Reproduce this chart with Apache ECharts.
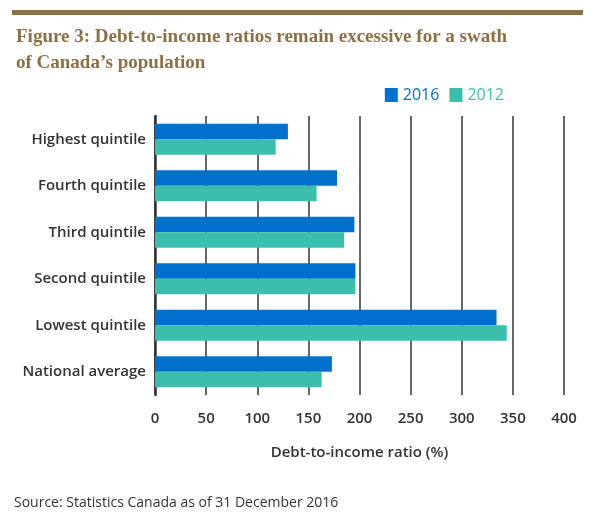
<!DOCTYPE html>
<html>
<head>
<meta charset="utf-8">
<script src="https://cdn.jsdelivr.net/npm/echarts@6/dist/echarts.min.js"></script>
<style>
  html, body { margin: 0; padding: 0; background: #fff; }
  #chart { width: 595px; height: 518px; }
</style>
</head>
<body>
<div id="chart"></div>
<script>
var categories = ['Highest quintile', 'Fourth quintile', 'Third quintile', 'Second quintile', 'Lowest quintile', 'National average'];
var values2016 = [130, 178, 195, 196, 334, 173];
var values2012 = [118, 158, 185, 196, 344, 163];
var seriesNames = ['2016', '2012'];

var colors = {
  blue: '#0070cd',
  teal: '#3bbfac',
  gold: '#8b7046',
  ink: '#333333'
};
var labelFont = '"Open Sans", sans-serif';

var chart = echarts.init(document.getElementById('chart'));

chart.setOption({
  animation: false,
  title: {
    text: 'Figure 3: Debt-to-income ratios remain excessive for a swath\nof Canada\u2019s population',
    left: 11,
    top: 19,
    textStyle: {
      fontFamily: '"Liberation Serif", serif',
      fontWeight: 'bold',
      fontSize: 19,
      lineHeight: 26,
      color: colors.gold
    }
  },
  legend: {
    right: 86,
    top: 82,
    itemWidth: 13,
    itemHeight: 14,
    itemGap: 10,
    icon: 'rect',
    data: [
      { name: seriesNames[0], textStyle: { color: colors.blue } },
      { name: seriesNames[1], textStyle: { color: colors.teal } }
    ],
    textStyle: { fontFamily: labelFont, fontSize: 16 }
  },
  grid: {
    left: 155,
    right: 31,
    top: 116,
    bottom: 123
  },
  xAxis: {
    type: 'value',
    min: 0,
    max: 400,
    interval: 50,
    name: 'Debt-to-income ratio (%)',
    nameLocation: 'middle',
    nameGap: 50,
    nameTextStyle: { fontFamily: labelFont, fontSize: 15, fontWeight: 600, color: colors.ink },
    axisLine: { show: false },
    axisTick: { show: false },
    axisLabel: { fontFamily: labelFont, fontSize: 15, fontWeight: 600, color: colors.ink, margin: 16 },
    splitLine: { lineStyle: { color: colors.ink, width: 1.5 } }
  },
  yAxis: {
    type: 'category',
    inverse: true,
    data: categories,
    axisLine: { lineStyle: { color: colors.ink, width: 2.5 } },
    axisTick: { show: false },
    axisLabel: { fontFamily: labelFont, fontSize: 15, fontWeight: 600, color: colors.ink, margin: 9 }
  },
  series: [
    {
      name: seriesNames[0],
      type: 'bar',
      data: values2016,
      barGap: 0,
      barCategoryGap: '33%',
      itemStyle: { color: colors.blue }
    },
    {
      name: seriesNames[1],
      type: 'bar',
      data: values2012,
      barGap: 0,
      barCategoryGap: '33%',
      itemStyle: { color: colors.teal }
    }
  ],
  graphic: [
    {
      type: 'rect',
      left: 12,
      top: 10,
      shape: { width: 571, height: 5 },
      style: { fill: colors.gold }
    },
    {
      type: 'text',
      left: 14,
      top: 496,
      style: {
        text: 'Source: Statistics Canada as of 31 December 2016',
        font: '14px "Open Sans", sans-serif',
        fill: colors.ink
      }
    }
  ]
});
</script>
</body>
</html>
